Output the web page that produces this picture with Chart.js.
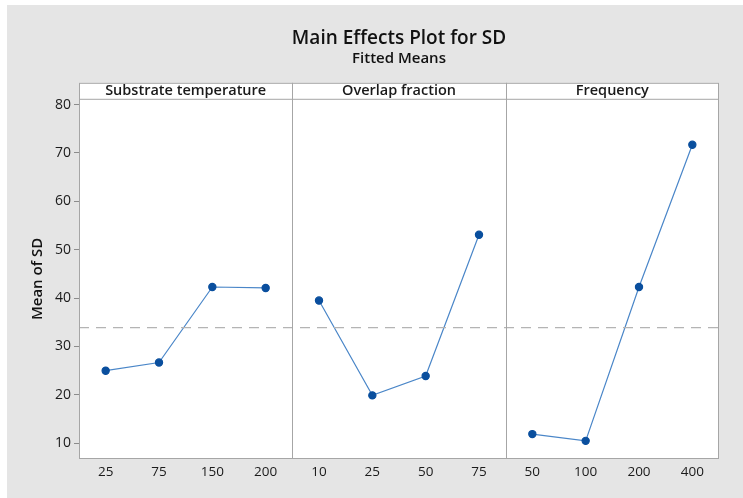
<!DOCTYPE html>
<html>
<head>
<meta charset="utf-8">
<script src="https://cdn.jsdelivr.net/npm/chart.js@4.4.1/dist/chart.umd.min.js"></script>
<style>
  html, body { margin: 0; padding: 0; background: #ffffff; }
  #wrap { width: 743px; height: 498px; }
</style>
</head>
<body>
<div id="wrap"><canvas id="grafico1" width="743" height="498"></canvas></div>
<script>
// factors and fitted means
var factorNames = ["Substrate temperature", "Overlap fraction", "Frequency"];
var tempLevels = ["25", "75", "150", "200"];
var tempMeans = [25.0, 26.7, 42.3, 42.1];
var overlapLevels = ["10", "25", "50", "75"];
var overlapMeans = [39.5, 19.9, 23.9, 53.1];
var freqLevels = ["50", "100", "200", "400"];
var freqMeans = [11.9, 10.5, 42.3, 71.7];
var grandMean = 33.9;
var yTicks = [10, 20, 30, 40, 50, 60, 70, 80];

var levels = [tempLevels, overlapLevels, freqLevels];
var means = [tempMeans, overlapMeans, freqMeans];

// every panel gets 4 slots on one shared x scale
var xLabels = {};
var xPos = [];
levels.forEach(function (lv, p) {
  lv.forEach(function (l, i) {
    var x = p * 4 + i + 0.5;
    xLabels[x] = l;
    xPos.push(x);
  });
});

var datasets = means.map(function (m, p) {
  return {
    data: m.map(function (v, i) { return { x: p * 4 + i + 0.5, y: v }; }),
    borderColor: "#4a86c8",
    borderWidth: 1.2,
    backgroundColor: "#0a4f9e",
    pointBackgroundColor: "#0a4f9e",
    pointBorderColor: "#0a4f9e",
    pointRadius: 3.6,
    tension: 0
  };
});
datasets.unshift({
  data: [{ x: 0, y: grandMean }, { x: 12, y: grandMean }],
  borderColor: "#b4b4b4",
  borderWidth: 1.4,
  borderDash: [10, 7],
  pointRadius: 0
});

var panelPlugin = {
  id: "panels",
  beforeDraw: function (chart) {
    var c = chart.ctx;
    c.save();
    c.fillStyle = "#ffffff";
    c.fillRect(0, 0, chart.width, chart.height);
    c.fillStyle = "#e5e5e5";
    c.fillRect(7, 5, chart.width - 7, chart.height - 5);
    var a = chart.chartArea;
    c.fillStyle = "#ffffff";
    c.fillRect(a.left, a.top - 16, a.right - a.left, a.bottom - a.top + 16);
    c.restore();
  },
  afterDraw: function (chart) {
    var c = chart.ctx;
    var a = chart.chartArea;
    var xs = chart.scales.x;
    c.save();
    c.strokeStyle = "#a6a6a6";
    c.lineWidth = 1;
    c.strokeRect(a.left + 0.5, a.top - 16 + 0.5, a.right - a.left - 1, a.bottom - a.top + 16 - 1);
    c.beginPath();
    c.moveTo(a.left, a.top + 0.5);
    c.lineTo(a.right, a.top + 0.5);
    [4, 8].forEach(function (v) {
      var px = Math.round(xs.getPixelForValue(v)) + 0.5;
      c.moveTo(px, a.top - 16);
      c.lineTo(px, a.bottom);
    });
    c.stroke();
    c.fillStyle = "#1a1a1a";
    c.font = "600 14.5px 'Open Sans'";
    c.textAlign = "center";
    c.textBaseline = "middle";
    factorNames.forEach(function (n, p) {
      var cx = (xs.getPixelForValue(p * 4) + xs.getPixelForValue(p * 4 + 4)) / 2;
      c.fillText(n, cx, a.top - 8);
    });
    c.restore();
  }
};

var ctx = document.getElementById("grafico1");
var myChart = new Chart(ctx, {
  type: "line",
  data: { datasets: datasets },
  plugins: [panelPlugin],
  options: {
    responsive: false,
    devicePixelRatio: 1,
    animation: false,
    layout: { padding: { left: 7, right: 24, top: 5, bottom: 12 } },
    plugins: {
      legend: { display: false },
      tooltip: { enabled: false },
      title: {
        display: true,
        fullSize: false,
        text: "Main Effects Plot for SD",
        color: "#111111",
        font: { family: "'Open Sans'", size: 19, weight: "600" },
        padding: { top: 22, bottom: 0 }
      },
      subtitle: {
        display: true,
        fullSize: false,
        text: "Fitted Means",
        color: "#111111",
        font: { family: "'Open Sans'", size: 15, weight: "600" },
        padding: { top: 0, bottom: 31 }
      }
    },
    scales: {
      x: {
        type: "linear",
        min: 0,
        max: 12,
        afterBuildTicks: function (s) {
          s.ticks = xPos.map(function (v) { return { value: v }; });
        },
        afterFit: function (s) { s.height = 27; },
        grid: { display: false, drawTicks: false },
        border: { display: false },
        ticks: {
          autoSkip: false,
          maxRotation: 0,
          padding: 5,
          color: "#1a1a1a",
          font: { family: "'Open Sans'", size: 13.5 },
          callback: function (v) { return xLabels[v] || ""; }
        }
      },
      y: {
        min: 6.75,
        max: 81.2,
        afterBuildTicks: function (s) {
          s.ticks = yTicks.map(function (v) { return { value: v }; });
        },
        afterFit: function (s) { s.width = 72; },
        grid: { drawOnChartArea: false, tickLength: 5, color: "#8c8c8c" },
        border: { display: false },
        ticks: {
          padding: 3,
          color: "#1a1a1a",
          font: { family: "'Open Sans'", size: 14 }
        },
        title: {
          display: true,
          text: "Mean of SD",
          color: "#111111",
          font: { family: "'Open Sans'", size: 15, weight: "600" },
          padding: { top: 22, bottom: 0 }
        }
      }
    }
  }
});
</script>
</body>
</html>
